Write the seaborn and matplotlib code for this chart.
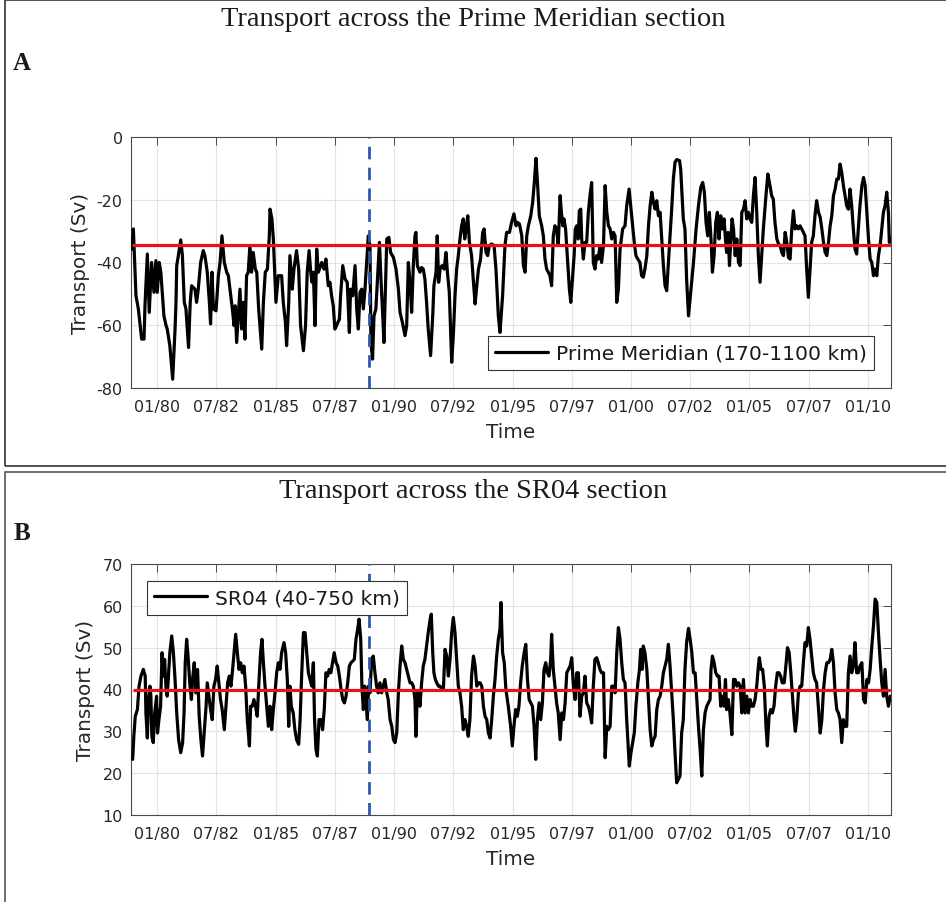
import numpy as np
import pandas as pd
import matplotlib
matplotlib.use("Agg")
import matplotlib.pyplot as plt
import seaborn as sns
from matplotlib.lines import Line2D
from matplotlib.patches import Rectangle

# ---------------- data ----------------
panel_titles = ["Transport across the Prime Meridian section", "Transport across the SR04 section"]
panel_letters = ["A", "B"]
legend_labels = ["Prime Meridian (170-1100 km)", "SR04 (40-750 km)"]
tick_years = [1980.0, 1982.5, 1985.0, 1987.5, 1990.0, 1992.5, 1995.0, 1997.5,
              2000.0, 2002.5, 2005.0, 2007.5, 2010.0]
tick_labels = ["01/80", "07/82", "01/85", "07/87", "01/90", "07/92", "01/95", "07/97",
               "01/00", "07/02", "01/05", "07/07", "01/10"]
event_year = 1988.96
pm_mean = -34.4
sr_mean = 39.9

pm_years = [
    1978.93, 1978.99, 1979.10, 1979.20, 1979.34, 1979.44, 1979.48, 1979.58, 1979.66, 1979.76,
    1979.86, 1979.94, 1980.00, 1980.08, 1980.15, 1980.28, 1980.37, 1980.42, 1980.53, 1980.65,
    1980.75, 1980.79, 1980.82, 1980.89, 1980.99, 1981.06, 1981.14, 1981.21, 1981.32, 1981.39,
    1981.45, 1981.59, 1981.66, 1981.73, 1981.83, 1981.94, 1982.01, 1982.11, 1982.20, 1982.25,
    1982.31, 1982.37, 1982.48, 1982.58, 1982.65, 1982.73, 1982.83, 1982.93, 1983.00, 1983.10,
    1983.17, 1983.24, 1983.29, 1983.35, 1983.42, 1983.49, 1983.56, 1983.63, 1983.70, 1983.77,
    1983.84, 1983.91, 1983.98, 1984.05, 1984.14, 1984.20, 1984.28, 1984.41, 1984.48, 1984.56,
    1984.65, 1984.73, 1984.76, 1984.84, 1984.90, 1984.94, 1985.01, 1985.11, 1985.25, 1985.32,
    1985.41, 1985.46, 1985.55, 1985.60, 1985.70, 1985.77, 1985.88, 1985.97, 1986.05, 1986.17,
    1986.26, 1986.33, 1986.41, 1986.48, 1986.53,
    1986.59, 1986.66, 1986.73, 1986.80, 1986.94, 1987.04, 1987.12, 1987.22, 1987.29, 1987.36,
    1987.43, 1987.50, 1987.57, 1987.69, 1987.74, 1987.83, 1987.93, 1988.02, 1988.11, 1988.16,
    1988.25, 1988.35, 1988.42, 1988.49, 1988.56, 1988.63, 1988.70, 1988.77, 1988.84, 1988.91,
    1988.98, 1989.02, 1989.09, 1989.15, 1989.23, 1989.29, 1989.38, 1989.45, 1989.52, 1989.57,
    1989.63, 1989.69, 1989.78, 1989.85, 1989.97, 1990.08, 1990.18, 1990.25, 1990.35, 1990.46,
    1990.53, 1990.60, 1990.67, 1990.74, 1990.81, 1990.88, 1990.92, 1990.98, 1991.09, 1991.16,
    1991.23, 1991.30, 1991.37, 1991.44, 1991.54, 1991.63, 1991.68, 1991.77, 1991.82, 1991.88,
    1991.94, 1992.02, 1992.11, 1992.19, 1992.25, 1992.33, 1992.43, 1992.50, 1992.57, 1992.64,
    1992.71, 1992.78, 1992.85, 1992.92, 1992.98, 1993.04, 1993.11, 1993.18, 1993.27, 1993.35,
    1993.42, 1993.49, 1993.56, 1993.65, 1993.74, 1993.80, 1993.88, 1993.95, 1994.02, 1994.12,
    1994.22, 1994.30, 1994.40,
    1994.47, 1994.58, 1994.68, 1994.75, 1994.87, 1994.96, 1995.06, 1995.15, 1995.20, 1995.29,
    1995.39, 1995.46, 1995.53, 1995.60, 1995.67, 1995.77, 1995.85, 1995.92, 1995.99, 1996.06,
    1996.13, 1996.23, 1996.30, 1996.37, 1996.44, 1996.51, 1996.58, 1996.65, 1996.72, 1996.79,
    1996.86, 1996.93, 1997.01, 1997.05, 1997.12, 1997.17, 1997.24, 1997.32, 1997.40, 1997.46,
    1997.54, 1997.60, 1997.65, 1997.71, 1997.77, 1997.82, 1997.88, 1997.92, 1997.99, 1998.06,
    1998.13, 1998.20, 1998.27, 1998.34, 1998.41, 1998.48, 1998.55, 1998.62, 1998.69, 1998.76,
    1998.84, 1998.91, 1998.98, 1999.05, 1999.12, 1999.19, 1999.26, 1999.33, 1999.40, 1999.47,
    1999.54, 1999.65, 1999.75, 1999.82, 1999.92, 1999.99, 2000.07, 2000.14, 2000.21, 2000.29,
    2000.38, 2000.45, 2000.52, 2000.59, 2000.67, 2000.74, 2000.81, 2000.88, 2000.95, 2001.02,
    2001.09, 2001.16, 2001.23, 2001.30, 2001.37, 2001.44, 2001.51, 2001.58, 2001.65, 2001.72,
    2001.79, 2001.86, 2001.93, 2002.05, 2002.10, 2002.16, 2002.21, 2002.28, 2002.35, 2002.43,
    2002.64, 2002.75, 2002.85, 2002.95, 2003.03, 2003.10, 2003.17, 2003.24, 2003.31, 2003.38,
    2003.44, 2003.51, 2003.58, 2003.65, 2003.72, 2003.79, 2003.86, 2003.93, 2003.99, 2004.04,
    2004.10, 2004.16, 2004.21, 2004.27, 2004.33, 2004.40, 2004.47, 2004.54, 2004.61, 2004.68,
    2004.75, 2004.82, 2004.89, 2004.96, 2005.03, 2005.10, 2005.17, 2005.24, 2005.31, 2005.38,
    2005.45, 2005.52, 2005.59, 2005.70, 2005.78, 2005.87, 2005.94, 2006.01, 2006.08, 2006.16,
    2006.23, 2006.30, 2006.37, 2006.44, 2006.51, 2006.58, 2006.65, 2006.72, 2006.79, 2006.86,
    2006.93, 2007.00, 2007.07, 2007.14, 2007.21, 2007.28, 2007.35, 2007.42, 2007.49, 2007.56,
    2007.63, 2007.70, 2007.77, 2007.84, 2007.92, 2007.99, 2008.06, 2008.13, 2008.20, 2008.27,
    2008.34, 2008.41, 2008.48, 2008.55, 2008.62, 2008.69, 2008.76, 2008.83, 2008.90, 2008.97,
    2009.04, 2009.11, 2009.18, 2009.25, 2009.32, 2009.39, 2009.46, 2009.53, 2009.60, 2009.67,
    2009.75, 2009.82, 2009.89, 2009.96, 2010.03, 2010.10, 2010.17, 2010.24, 2010.31, 2010.38,
    2010.45, 2010.52, 2010.59, 2010.66, 2010.73, 2010.80, 2010.87, 2010.91, 2010.97,
]
pm_transport = [
    -35.7, -29.3, -50.6, -54.8, -64.4, -64.4, -53.8, -37.3, -55.9, -40.0,
    -49.5, -39.4, -49.5, -40.0, -43.1, -57.0, -60.1, -61.2, -66.5, -77.2,
    -61.2, -52.7, -41.0, -37.8, -32.8, -37.8, -52.7, -54.8, -67.1, -52.7,
    -47.4, -48.5, -52.7, -48.5, -40.0, -36.2, -37.8, -43.1, -52.7, -59.6,
    -43.1, -54.8, -55.4, -44.2, -40.0, -31.5, -40.0, -43.1, -44.2, -50.6,
    -54.8, -60.1, -53.8, -65.5, -57.0, -48.5, -61.2, -52.7, -64.4, -44.2,
    -43.1, -34.6, -43.1, -36.8, -42.1, -43.1, -54.8, -67.6, -52.7, -43.1,
    -42.1, -31.5, -23.0, -26.1, -32.5, -40.0, -52.7, -44.2, -44.2, -52.7,
    -59.1, -66.5, -52.7, -37.8, -48.5, -42.1, -36.2, -42.1, -60.1, -68.1,
    -60.1, -43.1, -36.2, -43.1, -46.3,
    -43.1, -60.1, -35.7, -43.1, -40.0, -42.1, -38.9, -47.4, -46.3, -50.6,
    -53.8, -61.2, -60.1, -58.0, -50.6, -41.0, -45.3, -46.3, -62.3, -48.5,
    -50.6, -41.0, -54.8, -61.2, -49.5, -48.5, -54.8, -48.5, -40.0, -31.5,
    -34.6, -65.5, -70.8, -57.0, -54.8, -46.3, -33.6, -46.3, -57.0, -65.5,
    -48.5, -32.5, -32.0, -36.8, -38.4, -42.1, -48.5, -55.9, -59.1, -63.3,
    -60.1, -40.0, -46.3, -55.9, -41.0, -31.5, -30.4, -41.0, -43.1, -41.6,
    -42.1, -45.3, -52.7, -61.2, -69.7, -57.0, -47.4, -43.1, -31.5, -46.3,
    -42.1, -41.0, -42.1, -36.8, -43.1, -49.5, -71.8, -63.3, -50.6, -42.1,
    -37.8, -32.5, -28.3, -26.1, -32.5, -29.3, -25.1, -33.6, -37.8, -46.3,
    -53.2, -47.4, -42.1, -38.9, -30.4, -29.3, -36.8, -37.8, -34.6, -34.1,
    -34.6, -42.1, -57.0,
    -62.3, -50.6, -34.6, -30.4, -30.4, -27.2, -24.5, -28.3, -27.2, -27.7,
    -31.5, -41.0, -43.1, -31.5, -28.3, -25.1, -20.8, -14.5, -6.8, -15.5,
    -25.1, -28.3, -31.5, -38.9, -42.1, -43.1, -44.2, -47.4, -31.5, -28.3,
    -29.3, -34.6, -18.7, -23.0, -28.3, -26.1, -29.3, -38.9, -48.5, -52.7,
    -44.2, -37.8, -29.3, -28.3, -32.5, -23.5, -23.0, -32.5, -38.9, -33.6,
    -33.6, -24.0, -18.7, -14.5, -40.0, -42.1, -37.8, -38.9, -34.6, -40.0,
    -34.6, -15.5, -24.0, -28.3, -29.3, -32.5, -30.4, -31.5, -52.7, -48.5,
    -35.7, -29.3, -28.3, -21.9, -16.6, -21.9, -28.3, -33.6, -37.8, -38.9,
    -40.0, -44.2, -44.7, -42.1, -37.8, -28.3, -21.9, -17.6, -20.8, -23.0,
    -20.3, -25.1, -24.0, -32.5, -41.0, -47.4, -49.0, -40.0, -31.5, -23.0,
    -13.4, -8.1, -7.2, -7.5, -10.2, -18.7, -26.1, -29.3, -45.3, -57.0,
    -40.0, -29.3, -21.9, -16.0, -14.5, -17.6, -27.2, -31.5, -24.0, -32.5,
    -43.1, -37.8, -27.2, -24.0, -32.5, -25.1, -29.3, -26.1, -32.5, -36.8,
    -30.4, -41.0, -33.6, -26.1, -29.3, -37.8, -32.5, -40.0, -41.0, -24.0,
    -23.0, -20.3, -26.1, -24.0, -26.1, -27.2, -18.7, -12.9, -24.0, -37.8,
    -46.3, -37.8, -29.3, -18.7, -11.8, -15.5, -18.7, -19.8, -27.2, -32.5,
    -34.1, -34.6, -36.8, -37.8, -30.4, -33.6, -38.4, -38.9, -29.3, -23.5,
    -29.3, -28.3, -29.3, -28.3, -29.3, -30.4, -31.5, -42.1, -51.1, -42.1,
    -33.6, -31.5, -25.1, -20.3, -24.0, -25.6, -29.3, -33.6, -36.8, -37.8,
    -33.6, -28.3, -25.1, -18.7, -16.6, -13.4, -13.4, -8.6, -11.3, -15.5,
    -18.7, -21.9, -23.0, -16.6, -21.9, -29.3, -35.7, -37.3, -29.3, -21.9,
    -15.5, -12.9, -15.5, -24.0, -32.5, -38.9, -40.0, -44.2, -42.1, -44.2,
    -37.8, -34.6, -29.3, -24.0, -21.9, -17.6, -24.0, -33.6, -32.5,
]

sr_years = [
    1978.96, 1979.01, 1979.07, 1979.16, 1979.23, 1979.31, 1979.41, 1979.49, 1979.52, 1979.58,
    1979.63, 1979.69, 1979.73, 1979.77, 1979.83, 1979.89, 1979.97, 1980.01, 1980.07, 1980.14,
    1980.20, 1980.25, 1980.31, 1980.37, 1980.42, 1980.48, 1980.53, 1980.61, 1980.68, 1980.75,
    1980.82, 1980.90, 1980.99, 1981.07, 1981.13, 1981.18, 1981.24, 1981.31, 1981.38, 1981.44,
    1981.49, 1981.56, 1981.63, 1981.70, 1981.77, 1981.84, 1981.91, 1981.98, 1982.06, 1982.11,
    1982.18, 1982.25, 1982.32, 1982.39, 1982.46, 1982.53, 1982.60, 1982.67, 1982.74, 1982.83,
    1982.90, 1982.97, 1983.04, 1983.11, 1983.18, 1983.24, 1983.31, 1983.38, 1983.45, 1983.52,
    1983.59, 1983.66, 1983.73, 1983.80, 1983.89, 1983.94, 1984.01, 1984.08, 1984.15, 1984.22,
    1984.29, 1984.36, 1984.42, 1984.48, 1984.55, 1984.62, 1984.69, 1984.76, 1984.83, 1984.90,
    1984.97, 1985.04, 1985.11, 1985.18, 1985.25, 1985.35, 1985.42, 1985.49, 1985.55, 1985.60,
    1985.66, 1985.74, 1985.81, 1985.88, 1985.97, 1986.03, 1986.10, 1986.17, 1986.24, 1986.31,
    1986.38,
    1986.45, 1986.52, 1986.59, 1986.64, 1986.70, 1986.76, 1986.83, 1986.91, 1986.98, 1987.05,
    1987.12, 1987.19, 1987.26, 1987.33, 1987.40, 1987.47, 1987.55, 1987.62, 1987.69, 1987.76,
    1987.83, 1987.90, 1987.97, 1988.04, 1988.11, 1988.18, 1988.25, 1988.32, 1988.39, 1988.46,
    1988.52, 1988.59, 1988.64, 1988.70, 1988.76, 1988.81, 1988.87, 1988.92, 1988.98, 1989.05,
    1989.12, 1989.19, 1989.26, 1989.33, 1989.40, 1989.47, 1989.54, 1989.61, 1989.69, 1989.75,
    1989.83, 1989.90, 1989.97, 1990.04, 1990.11, 1990.18, 1990.25, 1990.32, 1990.39, 1990.46,
    1990.53, 1990.60, 1990.67, 1990.74, 1990.81, 1990.88, 1990.92, 1990.98, 1991.04, 1991.09,
    1991.16, 1991.23, 1991.30, 1991.37, 1991.44, 1991.52, 1991.57, 1991.63, 1991.68, 1991.74,
    1991.80, 1991.87, 1991.94, 1992.01, 1992.08, 1992.15, 1992.22, 1992.29, 1992.36, 1992.43,
    1992.50, 1992.57, 1992.64, 1992.71, 1992.78, 1992.85, 1992.92, 1992.99, 1993.06, 1993.13,
    1993.20, 1993.27, 1993.35, 1993.42, 1993.49, 1993.56, 1993.63, 1993.70, 1993.77, 1993.84,
    1993.91, 1993.98, 1994.05, 1994.12, 1994.19, 1994.26, 1994.33, 1994.40, 1994.47, 1994.51,
    1994.58, 1994.65, 1994.72, 1994.82, 1994.92, 1994.99, 1995.06, 1995.13, 1995.20, 1995.27,
    1995.34, 1995.41, 1995.49, 1995.56, 1995.63, 1995.70, 1995.77, 1995.84, 1995.91, 1995.98,
    1996.05, 1996.12, 1996.19, 1996.26, 1996.33, 1996.40, 1996.47, 1996.54, 1996.61, 1996.65,
    1996.72, 1996.79, 1996.86, 1996.93, 1997.01, 1997.08, 1997.15, 1997.22, 1997.29, 1997.36,
    1997.43, 1997.50, 1997.57, 1997.64, 1997.71, 1997.78, 1997.85, 1997.92, 1997.99, 1998.06,
    1998.13, 1998.20, 1998.27, 1998.34, 1998.41, 1998.48, 1998.55, 1998.62, 1998.69, 1998.76,
    1998.84, 1998.91, 1998.98, 1999.05, 1999.12, 1999.19, 1999.26, 1999.33, 1999.40, 1999.47,
    1999.54, 1999.61, 1999.68, 1999.75, 1999.82, 1999.89, 1999.93, 2000.00, 2000.07, 2000.14,
    2000.21, 2000.29, 2000.36, 2000.41, 2000.47, 2000.52, 2000.59, 2000.67, 2000.74, 2000.81,
    2000.88, 2000.95, 2001.02, 2001.09, 2001.16, 2001.23, 2001.30, 2001.37, 2001.44, 2001.51,
    2001.58, 2001.65, 2001.72, 2001.79, 2001.86, 2001.93, 2002.00, 2002.07, 2002.14, 2002.21,
    2002.28, 2002.35, 2002.43, 2002.50,
    2002.57, 2002.64, 2002.71, 2002.78, 2002.85, 2002.92, 2002.99, 2003.06, 2003.13, 2003.20,
    2003.27, 2003.34, 2003.38, 2003.44, 2003.51, 2003.58, 2003.65, 2003.72, 2003.79, 2003.86,
    2003.93, 2003.99, 2004.04, 2004.11, 2004.18, 2004.26, 2004.33, 2004.40, 2004.47, 2004.54,
    2004.61, 2004.68, 2004.75, 2004.82, 2004.89, 2004.96, 2005.03, 2005.10, 2005.17, 2005.24,
    2005.31, 2005.38, 2005.42, 2005.49, 2005.56, 2005.63, 2005.70, 2005.76, 2005.83, 2005.90,
    2005.97, 2006.04, 2006.11, 2006.18, 2006.25, 2006.32, 2006.39, 2006.47, 2006.54, 2006.61,
    2006.68, 2006.75, 2006.82, 2006.89, 2006.94, 2007.00, 2007.07, 2007.14, 2007.21, 2007.28,
    2007.35, 2007.42, 2007.49, 2007.56, 2007.63, 2007.70, 2007.77, 2007.84, 2007.92, 2007.99,
    2008.06, 2008.13, 2008.20, 2008.27, 2008.34, 2008.41, 2008.48, 2008.55, 2008.62, 2008.69,
    2008.76, 2008.83, 2008.90, 2008.97, 2009.04, 2009.11, 2009.18, 2009.25, 2009.32, 2009.39,
    2009.46, 2009.53, 2009.60, 2009.67, 2009.75, 2009.82, 2009.89, 2009.96, 2010.03, 2010.10,
    2010.17, 2010.24, 2010.31, 2010.38, 2010.45, 2010.52, 2010.59, 2010.66, 2010.73, 2010.80,
    2010.87, 2010.95,
]
sr_transport = [
    23.3, 28.8, 33.6, 35.2, 40.8, 43.2, 44.8, 43.2, 34.4, 28.4,
    37.6, 40.8, 38.4, 28.8, 27.3, 34.4, 38.4, 29.6, 32.8, 36.0,
    48.8, 43.2, 47.2, 40.0, 38.4, 44.0, 48.8, 52.8, 48.8, 42.4,
    34.4, 28.0, 24.9, 27.3, 34.4, 46.4, 52.0, 47.2, 40.8, 37.6,
    42.4, 46.4, 39.2, 44.8, 33.6, 28.0, 24.1, 29.6, 36.0, 41.6,
    38.4, 35.2, 32.8, 40.8, 42.4, 45.6, 41.6, 37.6, 35.2, 30.4,
    36.0, 41.6, 43.2, 40.8, 44.8, 48.8, 53.2, 48.8, 44.8, 46.4,
    44.0, 45.6, 40.8, 32.8, 26.5, 36.0, 36.0, 37.6, 36.0, 33.6,
    41.6, 48.8, 52.0, 46.4, 40.8, 36.0, 31.2, 36.0, 30.4, 35.2,
    39.2, 44.0, 46.4, 44.8, 48.8, 51.2, 48.8, 42.4, 31.2, 40.8,
    36.0, 34.4, 30.4, 28.0, 26.9, 32.8, 44.0, 53.6, 53.6, 48.8,
    44.0,
    42.4, 40.8, 46.4, 32.8, 25.7, 24.1, 32.8, 32.8, 30.4, 35.2,
    44.0, 43.2, 44.8, 44.0, 46.4, 48.8, 46.4, 45.6, 43.2, 40.0,
    37.6, 36.8, 38.4, 41.6, 45.6, 46.4, 46.8, 47.2, 52.0, 54.4,
    56.8, 52.0, 40.8, 35.2, 40.8, 37.6, 32.8, 40.8, 39.2, 47.2,
    48.0, 44.0, 40.8, 39.2, 41.6, 39.2, 40.8, 42.4, 39.2, 37.6,
    32.8, 31.2, 28.0, 27.3, 29.6, 39.2, 45.6, 50.4, 47.2, 46.4,
    44.8, 43.2, 41.6, 41.6, 40.8, 37.6, 28.8, 39.2, 39.2, 36.0,
    41.6, 45.6, 47.2, 50.4, 53.6, 56.8, 58.0, 48.8, 44.0, 42.4,
    41.6, 40.8, 40.8, 40.0, 40.0, 49.6, 48.0, 43.2, 47.2, 53.6,
    57.2, 53.6, 47.2, 40.8, 39.2, 36.0, 30.4, 32.8, 31.2, 28.8,
    32.8, 43.2, 48.0, 45.6, 40.8, 41.6, 41.6, 40.8, 36.0, 33.6,
    32.8, 29.6, 28.4, 32.8, 38.4, 42.4, 48.0, 52.0, 54.4, 60.8,
    48.8, 46.4, 40.0, 36.0, 31.2, 26.5, 31.2, 35.2, 33.6, 36.0,
    41.6, 45.6, 48.8, 50.8, 42.4, 37.6, 36.8, 36.0, 31.2, 23.3,
    32.8, 36.8, 32.8, 36.8, 44.8, 46.4, 44.0, 43.2, 47.2, 53.2,
    44.8, 40.8, 36.8, 34.4, 28.0, 34.4, 32.8, 36.8, 44.0, 44.8,
    45.6, 47.6, 40.8, 37.6, 44.0, 44.0, 33.6, 38.4, 39.2, 43.2,
    36.8, 36.0, 34.4, 32.0, 40.8, 47.2, 47.6, 46.4, 44.8, 44.0,
    44.0, 23.7, 31.2, 30.4, 31.2, 40.8, 40.8, 39.2, 48.8, 54.8,
    52.0, 46.4, 42.4, 41.6, 32.8, 25.7, 21.7, 24.9, 27.3, 29.6,
    36.0, 41.6, 44.8, 49.6, 44.8, 50.4, 48.8, 44.8, 37.6, 30.4,
    26.5, 28.0, 28.8, 35.2, 37.6, 38.4, 40.8, 44.0, 45.6, 47.2,
    50.8, 45.6, 39.2, 32.8, 24.9, 17.7, 18.5, 19.3, 29.6, 32.8,
    44.8, 51.2, 54.6, 52.0,
    48.8, 44.0, 44.0, 37.6, 31.2, 25.7, 19.3, 30.4, 34.4, 36.0,
    36.8, 37.6, 44.8, 48.0, 46.4, 44.0, 43.2, 43.2, 36.0, 38.4,
    36.0, 42.4, 35.2, 37.6, 34.4, 29.2, 42.4, 42.4, 40.8, 41.6,
    40.8, 34.4, 42.4, 34.4, 38.4, 34.4, 37.6, 36.0, 36.0, 37.6,
    40.8, 45.6, 47.6, 44.8, 44.8, 40.8, 31.2, 26.5, 33.6, 35.2,
    34.4, 36.0, 40.8, 44.0, 44.0, 43.2, 41.6, 41.6, 45.6, 50.0,
    48.8, 44.0, 38.4, 32.8, 30.0, 32.8, 39.2, 40.8, 40.8, 46.4,
    51.2, 50.4, 54.8, 52.0, 48.0, 44.0, 42.4, 41.6, 35.2, 29.6,
    32.8, 40.0, 44.0, 46.4, 46.4, 47.2, 49.6, 46.4, 39.2, 35.2,
    34.4, 32.8, 27.3, 32.8, 31.2, 31.2, 44.0, 48.0, 44.0, 45.6,
    51.2, 44.0, 44.0, 45.6, 46.4, 37.6, 36.8, 42.4, 41.6, 44.8,
    50.4, 55.2, 61.6, 60.8, 53.6, 47.2, 41.6, 38.4, 44.8, 38.4,
    36.0, 38.4,
]

# ---------------- styling ----------------
sns.set_theme(style="white")
plt.rcParams["font.family"] = ["DejaVu Sans"]

W, H = 946, 903
fig = plt.figure(figsize=(W / 100, H / 100), dpi=100)
fig.patch.set_facecolor("white")

RED = "#e4141b"
BLUE = "#2d57aa"
AXC = "#4a4a4a"
TXT = "#262626"


def fx(px):
    return px / W


def fy(py):
    return 1 - py / H


# panel frames
fig.patches.append(Rectangle((fx(5), fy(467)), 1.2, (467 - 1) / H, transform=fig.transFigure,
                             fill=False, edgecolor="#333333", lw=1.2, zorder=0))
fig.patches.append(Rectangle((fx(5), fy(940)), 1.2, (940 - 473) / H, transform=fig.transFigure,
                             fill=False, edgecolor="#555555", lw=1.2, zorder=0))

panels = [
    dict(top=138, years=pm_years, vals=pm_transport, mean=pm_mean, ylim=(-80, 0),
         yticks=[-80, -60, -40, -20, 0], title_y=20, letter_y=63,
         leg_loc="lower right", leg_anchor=((874 - 131) / 760, 1 - (371 - 138) / 251)),
    dict(top=565, years=sr_years, vals=sr_transport, mean=sr_mean, ylim=(10, 70),
         yticks=[10, 20, 30, 40, 50, 60, 70], title_y=491, letter_y=533,
         leg_loc="upper left", leg_anchor=((147 - 131) / 760, 1 - (582 - 565) / 251)),
]

for i, p in enumerate(panels):
    ax = fig.add_axes([fx(131), fy(p["top"] + 251), (891 - 131) / W, 251 / H])
    df = pd.DataFrame({"Time": p["years"], "Transport": p["vals"]})
    sns.lineplot(data=df, x="Time", y="Transport", ax=ax, color="black", lw=2.3,
                 sort=False, estimator=None, legend=False, zorder=3)
    ax.hlines(p["mean"], df["Time"].iloc[0], df["Time"].iloc[-1], color=RED, lw=2.3, zorder=4)
    ax.axvline(event_year, color=BLUE, lw=2.0, dashes=(4.5, 3.0), zorder=5)

    ax.set_xlim(1978.89, 2010.98)
    ax.set_ylim(*p["ylim"])
    ax.set_xticks(tick_years)
    ax.set_xticklabels(tick_labels)
    ax.set_yticks(p["yticks"])
    ax.set_yticklabels([str(v) for v in p["yticks"]])
    ax.grid(True, color="#e3e3e3", lw=0.8)
    ax.set_axisbelow(True)
    for s in ax.spines.values():
        s.set_visible(True)
        s.set_color(AXC)
        s.set_linewidth(0.8)
    ax.tick_params(direction="in", length=5.5, width=0.7, color=AXC, top=True, right=True,
                   labelsize=11.5, labelcolor=TXT)
    ax.tick_params(axis="x", pad=8)
    ax.tick_params(axis="y", pad=6)
    ax.set_xlabel("Time", fontsize=14.4, color=TXT, labelpad=6)
    ax.set_ylabel("Transport (Sv)", fontsize=14.4, color=TXT, labelpad=5)

    leg = ax.legend(handles=[Line2D([0], [0], color="black", lw=2.3)], labels=[legend_labels[i]],
                    loc=p["leg_loc"], bbox_to_anchor=p["leg_anchor"], fontsize=14.6,
                    frameon=True, fancybox=False, edgecolor="#333333", framealpha=1,
                    borderpad=0.36, handlelength=2.6, handletextpad=0.4, borderaxespad=0)
    leg.get_frame().set_linewidth(0.8)
    for t in leg.get_texts():
        t.set_color("#1a1a1a")

    fig.text(0.5, fy(p["title_y"]), panel_titles[i], ha="center", va="center",
             family=["Liberation Serif", "DejaVu Serif"], fontsize=20.5, color="#1a1a1a")
    fig.text(fx(22), fy(p["letter_y"]), panel_letters[i], ha="center", va="center",
             family=["Liberation Serif", "DejaVu Serif"], fontsize=18, fontweight="bold",
             color="#1a1a1a")

fig.savefig("out.png", dpi=100, facecolor="white")
